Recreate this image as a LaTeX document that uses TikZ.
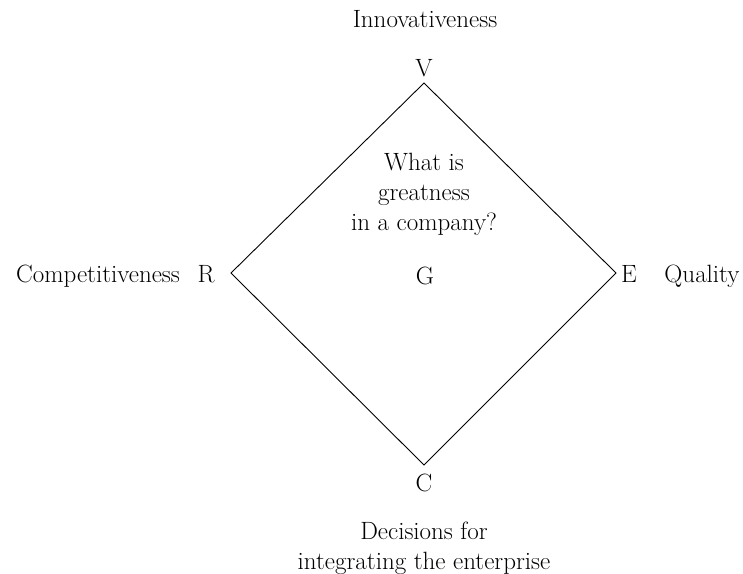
\documentclass[tikz,border=0pt]{standalone}
\usepackage{tikz}

\tikzset{
  lbl/.style={anchor=base, inner sep=0pt, font=\fontsize{25}{30}\selectfont},
  blk/.style={align=center, inner sep=0pt, font=\fontsize{25}{30}\selectfont},
  edge/.style={line width=0.9pt, line join=miter}
}

\begin{document}
\begin{tikzpicture}[x=1pt, y=-1pt]
  \useasboundingbox (0,0) rectangle (743,573);
  % corners of the diamond
  \coordinate (top) at (424,83);
  \coordinate (right) at (616,273);
  \coordinate (bottom) at (424,465);
  \coordinate (left) at (231,273);
  \draw[edge] (top) -- (right) -- (bottom) -- (left) -- cycle;

  % letters at the corners
  \node[lbl] (v) at (424,76) {V};
  \node[lbl] (e) at (629,282) {E};
  \node[lbl] (c) at (424,491) {C};
  \node[lbl] (r) at (206,282) {R};
  \node[lbl] (g) at (425,284) {G};

  % outer labels
  \node[lbl] (innov) at (425,27) {Innovativeness};
  \node[lbl] (compet) at (98,282) {Competitiveness};
  \node[lbl] (qual) at (702,282) {Quality};
  \node[blk, anchor=center] (quest) at (424,194) {What is\\greatness\\in a company?};
  \node[blk, anchor=center] (decis) at (424,548) {Decisions for\\integrating the enterprise};
\end{tikzpicture}
\end{document}
